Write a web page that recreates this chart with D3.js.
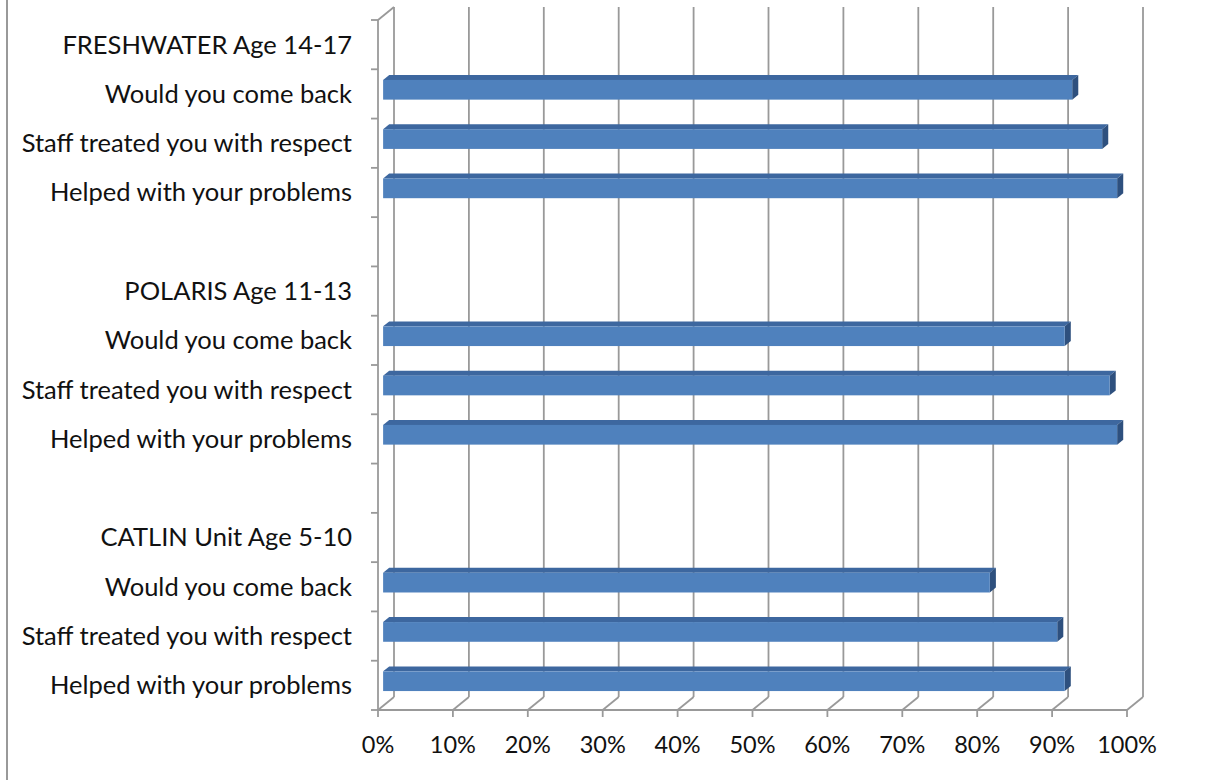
<!DOCTYPE html>
<html>
<head>
<meta charset="utf-8">
<script src="https://cdn.jsdelivr.net/npm/d3@7"></script>
<style>
  body { margin: 0; background: #fff; }
  svg { display: block; }
  text { font-family: Lato, "Open Sans", sans-serif; fill: #111; }
</style>
</head>
<body>
<div id="chart"></div>
<script>
// categories listed top to bottom, blank rows keep the gaps between groups
const labels = [
  "FRESHWATER Age 14-17", "Would you come back", "Staff treated you with respect", "Helped with your problems",
  "",
  "POLARIS Age 11-13", "Would you come back", "Staff treated you with respect", "Helped with your problems",
  "",
  "CATLIN Unit Age 5-10", "Would you come back", "Staff treated you with respect", "Helped with your problems"
];
const values = [null, 0.92, 0.96, 0.98, null, null, 0.91, 0.97, 0.98, null, null, 0.81, 0.90, 0.91];
const ticks = [0, 0.1, 0.2, 0.3, 0.4, 0.5, 0.6, 0.7, 0.8, 0.9, 1];

const W = 1207, H = 780;
const plot = { left: 378, right: 1127, top: 20, bottom: 710 };
const depth = { dx: 16, dy: -13 };      // wall depth offset
const barDepth = [0.32, 0.7];           // bar sits in the middle of the depth

const svg = d3.select("#chart")
  .append("svg")
  .attr("width", W)
  .attr("height", H);

const x = d3.scaleLinear().domain([0, 1]).range([plot.left, plot.right]);
const y = d3.scaleBand().domain(d3.range(labels.length)).range([plot.top, plot.bottom]);

const grid = "#999";

// outer frame (only left edge is visible)
svg.append("line")
  .attr("x1", 7).attr("x2", 7).attr("y1", 0).attr("y2", H)
  .attr("stroke", grid).attr("stroke-width", 2);

// back wall gridlines + floor diagonals
const g = svg.append("g").attr("stroke", grid).attr("stroke-width", 1.8).attr("fill", "none");
ticks.forEach(t => {
  const bx = x(t) + depth.dx;
  g.append("line")
    .attr("x1", bx).attr("x2", bx)
    .attr("y1", plot.top + depth.dy).attr("y2", plot.bottom + depth.dy);
  g.append("line")
    .attr("x1", x(t)).attr("x2", bx)
    .attr("y1", plot.bottom).attr("y2", plot.bottom + depth.dy);
});
// side wall
g.append("line")
  .attr("x1", plot.left).attr("x2", plot.left + depth.dx)
  .attr("y1", plot.top).attr("y2", plot.top + depth.dy);
g.append("line")
  .attr("x1", plot.left).attr("x2", plot.left)
  .attr("y1", plot.top).attr("y2", plot.bottom);
g.append("line")
  .attr("x1", plot.left).attr("x2", plot.right)
  .attr("y1", plot.bottom).attr("y2", plot.bottom);

// left axis ticks at category boundaries
d3.range(labels.length + 1).forEach(i => {
  const yy = plot.top + i * y.bandwidth();
  g.append("line").attr("x1", plot.left - 7).attr("x2", plot.left).attr("y1", yy).attr("y2", yy);
});
// bottom ticks
ticks.forEach(t => {
  g.append("line").attr("x1", x(t)).attr("x2", x(t)).attr("y1", plot.bottom).attr("y2", plot.bottom + 7);
});

// bars
const bh = y.bandwidth() * 0.4;
const fx = depth.dx * barDepth[0], fy = depth.dy * barDepth[0];
const ddx = depth.dx * (barDepth[1] - barDepth[0]), ddy = depth.dy * (barDepth[1] - barDepth[0]);

const bars = svg.append("g");
values.forEach((v, i) => {
  if (v == null) return;
  const x0 = x(0) + fx, x1 = x(v) + fx;
  const yc = y(i) + y.bandwidth() / 2 + fy;
  const y0 = yc - bh / 2, y1 = yc + bh / 2;
  const b = bars.append("g");
  b.append("polygon")
    .attr("points", [[x0, y0], [x0 + ddx, y0 + ddy], [x1 + ddx, y0 + ddy], [x1, y0]].join(" "))
    .attr("fill", "#3d679f");
  b.append("polygon")
    .attr("points", [[x1, y0], [x1 + ddx, y0 + ddy], [x1 + ddx, y1 + ddy], [x1, y1]].join(" "))
    .attr("fill", "#2e507e");
  b.append("rect")
    .attr("x", x0).attr("y", y0)
    .attr("width", x1 - x0).attr("height", bh)
    .attr("fill", "#4f81bd");
});

// text
svg.append("g")
  .selectAll("text")
  .data(labels)
  .join("text")
  .attr("x", 352)
  .attr("y", (d, i) => y(i) + y.bandwidth() / 2)
  .attr("dy", "0.35em")
  .attr("text-anchor", "end")
  .style("font-size", "25.5px")
  .text(d => d);

svg.append("g")
  .selectAll("text")
  .data(ticks)
  .join("text")
  .attr("x", d => x(d))
  .attr("y", 753)
  .attr("text-anchor", "middle")
  .style("font-size", "23.5px")
  .text(d3.format(".0%"));
</script>
</body>
</html>
